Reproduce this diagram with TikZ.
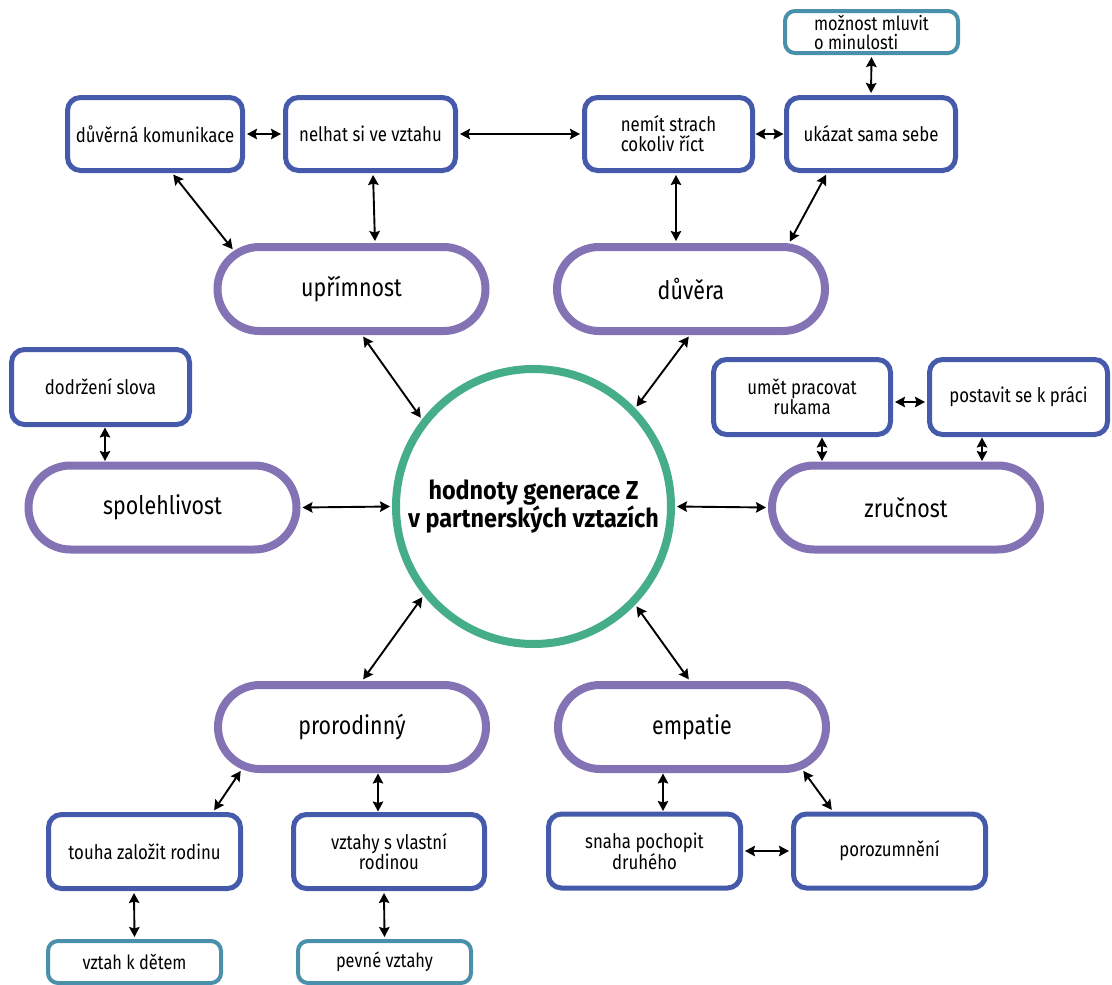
\documentclass[tikz,border=0pt]{standalone}
\usepackage{fontspec}
\setmainfont{Fira Sans}[FakeStretch=0.84]
\newfontfamily\hubfont{Fira Sans}[FakeStretch=0.9]
\usetikzlibrary{arrows.meta,shapes.misc}
\definecolor{boxblue}{RGB}{69,90,170}
\definecolor{pillpurple}{RGB}{132,115,180}
\definecolor{circgreen}{RGB}{69,173,136}
\definecolor{boxteal}{RGB}{74,144,170}
\tikzset{
  bluebox/.style={draw=boxblue, line width=5pt, rounded corners=13pt, fill=white,
    minimum height=73pt, inner sep=2pt, align=center,
    font=\fontsize{20}{20}\selectfont},
  tealbox/.style={draw=boxteal, line width=4pt, rounded corners=10pt, fill=white,
    minimum width=173pt, minimum height=42pt, inner sep=1pt, align=center,
    font=\fontsize{19.5}{19}\selectfont},
  pill/.style={rounded rectangle, draw=pillpurple, line width=8pt, fill=white,
    minimum width=272pt, minimum height=84pt, inner sep=2pt,
    font=\fontsize{25.5}{28}\selectfont},
  hub/.style={circle, draw=circgreen, line width=8pt, fill=white,
    minimum size=275pt, inner sep=0pt, align=center,
    font=\hubfont\fontsize{26}{26}\selectfont\bfseries},
  link/.style={{Stealth[length=10pt,width=10.5pt,inset=1.5pt]}-{Stealth[length=10pt,width=10.5pt,inset=1.5pt]},
    line width=1.9pt, black, shorten >=2pt, shorten <=2pt},
  tight/.style={shorten >=0.5pt, shorten <=0.5pt}
}
\begin{document}
\begin{tikzpicture}[x=1pt,y=-1pt]
\useasboundingbox (0,0) rectangle (1112,985);
% hub
\node[hub] (c) at (533.5,506.5) {hodnoty generace Z\\v partnerských vztazích};
% pills
\node[pill] (upr) at (351.5,289) {upřímnost};
\node[pill] (duv) at (691,289) {důvěra};
\node[pill] (spol) at (162.5,507.5) {spolehlivost};
\node[pill] (zr) at (906,507.5) {zručnost};
\node[pill] (pr) at (352,727) {prorodinný};
\node[pill] (em) at (692,727) {empatie};
% blue boxes
\node[bluebox, minimum width=175pt] (dk) at (155,134) {důvěrná komunikace};
\node[bluebox, minimum width=170pt] (nh) at (370.5,134) {nelhat si ve vztahu};
\node[bluebox, minimum width=168pt, align=left] (ns) at (668.5,134) {nemít strach\\cokoliv říct};
\node[bluebox, minimum width=169pt] (uk) at (871,134) {ukázat sama sebe};
\node[bluebox, minimum width=178pt, minimum height=75pt] (dod) at (100.5,387) {dodržení slova};
\node[bluebox, minimum width=177pt, minimum height=75pt] (um) at (802,397) {umět pracovat\\rukama};
\node[bluebox, minimum width=178pt, minimum height=75pt] (po) at (1018.5,397) {postavit se k práci};
\node[bluebox, minimum width=192pt, minimum height=74pt] (tou) at (144.5,851.5) {touha založit rodinu};
\node[bluebox, minimum width=191pt, minimum height=74pt] (vz) at (389,851.5) {vztahy s vlastní\\rodinou};
\node[bluebox, minimum width=192pt, minimum height=74pt] (sn) at (644.5,851) {snaha pochopit\\druhého};
\node[bluebox, minimum width=192pt, minimum height=74pt] (por) at (889.5,851) {porozumnění};
% teal boxes
\node[tealbox, align=left] (mo) at (871.5,32) {možnost mluvit\\o minulosti};
\node[tealbox] (vk) at (134.5,962) {vztah k dětem};
\node[tealbox] (pe) at (384.5,962) {pevné vztahy};
% connectors
\draw[link] (dk.east) -- (nh.west);
\draw[link] (nh.east) -- (ns.west);
\draw[link, tight] (ns.east) -- (uk.west);
\draw[link] (mo.south) -- (uk.north);
\draw[link] ([xshift=17pt]dk.south) -- (upr.162);
\draw[link] ([xshift=2.5pt]nh.south) -- ([xshift=23.5pt]upr.north);
\draw[link] ([xshift=7.5pt]ns.south) -- ([xshift=-15pt]duv.north);
\draw[link] ([xshift=-44pt]uk.south) -- (duv.25);
\draw[link] ([xshift=10.5pt]upr.south) -- (c.142);
\draw[link] ([xshift=-1pt]duv.south) -- (c.44);
\draw[link, tight] ([xshift=4.5pt]dod.south) -- ([xshift=-57.5pt]spol.north);
\draw[link] (spol.east) -- (c.west);
\draw[link] (c.east) -- (zr.west);
\draw[link] ([yshift=-5pt]um.east) -- ([yshift=-5pt]po.west);
\draw[link, tight] ([xshift=20pt]um.south) -- ([xshift=-84pt]zr.north);
\draw[link, tight] ([xshift=-36.5pt]po.south) -- ([xshift=76pt]zr.north);
\draw[link] (c.219) -- ([xshift=10pt]pr.north);
\draw[link] (c.316) -- ([xshift=-2pt]em.north);
\draw[link] (pr.201) -- ([xshift=68.5pt]tou.north);
\draw[link, tight] ([xshift=26pt]pr.south) -- ([xshift=-11pt]vz.north);
\draw[link, tight] ([xshift=-29pt]em.south) -- ([xshift=18.5pt]sn.north);
\draw[link] (em.339) -- ([xshift=-56.5pt]por.north);
\draw[link] (sn.east) -- (por.west);
\draw[link] ([xshift=-10.5pt]tou.south) -- (vk.north);
\draw[link] ([xshift=-5pt]vz.south) -- (pe.north);
\end{tikzpicture}
\end{document}
